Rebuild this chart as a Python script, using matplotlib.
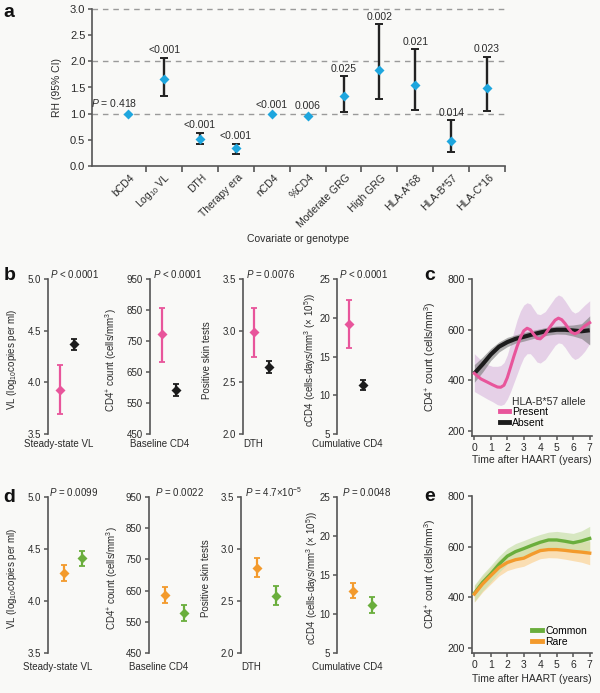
import matplotlib
matplotlib.use("Agg")
import matplotlib.pyplot as plt
from matplotlib.lines import Line2D
import numpy as np

plt.rcParams['font.family'] = ['Liberation Sans', 'DejaVu Sans']
plt.rcParams['mathtext.fontset'] = 'custom'
plt.rcParams['mathtext.rm'] = 'Liberation Sans'
plt.rcParams['mathtext.it'] = 'Liberation Sans:italic'
plt.rcParams['mathtext.bf'] = 'Liberation Sans:bold'

## data ########################################################################

# panel a: relative hazard per covariate
cov_labels = ['bCD4', 'Log$_{10}$ VL', 'DTH', 'Therapy era', 'nCD4', '%CD4',
              'Moderate GRG', 'High GRG', 'HLA-A*68', 'HLA-B*57', 'HLA-C*16']
rh = [1.00, 1.67, 0.51, 0.33, 0.99, 0.96, 1.33, 1.84, 1.54, 0.48, 1.49]
rh_lo = [1.00, 1.33, 0.42, 0.23, 0.99, 0.96, 1.03, 1.27, 1.07, 0.27, 1.05]
rh_hi = [1.00, 2.07, 0.63, 0.42, 0.99, 0.96, 1.72, 2.71, 2.23, 0.87, 2.09]
p_a = ['$P$ = 0.418', '<0.001', '<0.001', '<0.001', '<0.001', '0.006',
       '0.025', '0.002', '0.021', '0.014', '0.023']

# panels b, d: four outcome measures
out_names = ['Steady-state VL', 'Baseline CD4', 'DTH', 'Cumulative CD4']
out_ylabels = ['VL (log$_{10}$copies per ml)', 'CD4$^{+}$ count (cells/mm$^{3}$)',
               'Positive skin tests', 'cCD4 (cells-days/mm$^{3}$ (\u00d7 10$^{5}$))']
out_ylims = [(3.5, 5.0), (450, 950), (2.0, 3.5), (5, 25)]
out_yticks = [[3.5, 4.0, 4.5, 5.0], [450, 550, 650, 750, 850, 950],
              [2.0, 2.5, 3.0, 3.5], [5, 10, 15, 20, 25]]
out_fmt = ['%.1f', '%d', '%.1f', '%d']

# b: HLA-B*57 present vs absent
p_b = ['$P$ < 0.0001', '$P$ < 0.0001', '$P$ = 0.0076', '$P$ < 0.0001']
b57_mean = [3.93, 772, 2.99, 19.2]
b57_lo = [3.69, 684, 2.75, 16.1]
b57_hi = [4.17, 858, 3.225, 22.3]
nob57_mean = [4.37, 592, 2.653, 11.35]
nob57_lo = [4.31, 574, 2.59, 10.7]
nob57_hi = [4.42, 612, 2.71, 12.0]

# d: rare vs common genotype
p_d = ['$P$ = 0.0099', '$P$ = 0.0022', '$P$ = 4.7\u00d710$^{-5}$', '$P$ = 0.0048']
rare_mean = [4.27, 636, 2.82, 13.0]
rare_lo = [4.19, 609, 2.73, 12.05]
rare_hi = [4.35, 662, 2.91, 13.99]
common_mean = [4.41, 579, 2.55, 11.2]
common_lo = [4.34, 552, 2.46, 10.16]
common_hi = [4.48, 603, 2.64, 12.18]

# panel c: CD4 trajectories by HLA-B*57
c_t_abs = [0, 0.5, 1, 1.5, 2, 2.5, 3, 3.5, 4, 4.5, 5, 5.5, 6, 6.5, 7]
c_abs = [427, 463, 502, 533, 551, 564, 572, 581, 589, 596, 600, 600, 597, 594, 598]
c_abs_lo = [392, 432, 478, 512, 533, 547, 555, 564, 572, 579, 583, 582, 575, 565, 540]
c_abs_hi = [462, 492, 526, 552, 570, 580, 589, 597, 604, 611, 615, 617, 619, 624, 655]
c_t_pre = [0, 0.4, 0.8, 1.1, 1.4, 1.6, 1.8, 2.0, 2.2, 2.4, 2.6, 2.8, 3.0, 3.2,
           3.4, 3.6, 3.8, 4.0, 4.3, 4.6, 4.9, 5.1, 5.3, 5.5, 5.7, 5.9, 6.1,
           6.3, 6.5, 6.7, 7.0]
c_pre = [427, 405, 392, 382, 373, 372, 380, 410, 452, 495, 535, 570, 596, 606,
         600, 582, 566, 564, 582, 612, 638, 646, 640, 625, 606, 590, 584,
         590, 603, 615, 628]
c_pre_lo = [355, 340, 325, 315, 303, 300, 305, 325, 355, 390, 425, 460, 490, 505,
            505, 490, 472, 468, 482, 510, 538, 548, 545, 530, 510, 492, 482,
            488, 500, 515, 545]
c_pre_hi = [505, 480, 462, 455, 455, 458, 470, 500, 545, 595, 640, 675, 698, 707,
            702, 682, 663, 660, 672, 700, 728, 738, 732, 715, 695, 675, 666,
            672, 685, 698, 715]

# panel e: CD4 trajectories by genotype frequency
e_t = [0, 0.5, 1, 1.5, 2, 2.5, 3, 3.5, 4, 4.5, 5, 5.5, 6, 6.5, 7]
e_common = [415, 458, 492, 530, 562, 580, 592, 605, 617, 626, 626, 621, 615, 622, 632]
e_common_lo = [382, 425, 460, 498, 530, 548, 562, 574, 586, 594, 593, 587, 578, 580, 585]
e_common_hi = [448, 490, 525, 562, 593, 612, 624, 637, 648, 657, 660, 656, 652, 662, 680]
e_rare = [412, 452, 485, 517, 537, 548, 554, 570, 584, 588, 588, 585, 581, 578, 574]
e_rare_lo = [380, 420, 452, 484, 505, 515, 522, 538, 552, 556, 555, 550, 544, 538, 528]
e_rare_hi = [444, 484, 518, 550, 569, 581, 587, 602, 616, 620, 621, 620, 618, 618, 620]

## styling ######################################################################

W, H = 600, 693
bg = '#f9f9f7'
spine_c = '#555555'
text_c = '#2a2a2a'
cyan = '#1ea6de'
pink = '#e8559b'
black = '#1c1c1c'
orange = '#f39a2c'
green = '#6aae3c'
fs = 7.5

fig = plt.figure(figsize=(W / 100, H / 100), dpi=100, facecolor=bg)


def px_axes(x0, y0, x1, y1):
    a = fig.add_axes([x0 / W, 1 - y1 / H, (x1 - x0) / W, (y1 - y0) / H])
    a.set_facecolor('none')
    return a


def ftext(x, y, s, **kw):
    kw.setdefault('fontsize', fs)
    kw.setdefault('color', text_c)
    return fig.text(x / W, 1 - y / H, s, **kw)


def style_left(a, size=fs):
    for s in ['top', 'right', 'bottom']:
        a.spines[s].set_visible(False)
    a.spines['left'].set_color(spine_c)
    a.spines['left'].set_linewidth(1.2)
    a.tick_params(axis='y', direction='out', length=3, width=1.1, color=spine_c,
                  labelsize=size, labelcolor=text_c, pad=2)


## panel a ######################################################################
ax = px_axes(92.3, 9.3, 505, 165.7)
style_left(ax, 8)
ax.spines['bottom'].set_visible(True)
ax.spines['bottom'].set_color(spine_c)
ax.spines['bottom'].set_linewidth(1.2)
ax.set_xlim(-1, 10.5)
ax.set_ylim(0, 3)
ax.set_yticks([0, 0.5, 1.0, 1.5, 2.0, 2.5, 3.0])
ax.set_yticklabels(['%.1f' % v for v in [0, 0.5, 1.0, 1.5, 2.0, 2.5, 3.0]])
for yv in [1, 2, 3]:
    ax.axhline(yv, color='#9a9a9a', lw=1, ls=(0, (4, 3.5)), zorder=0, clip_on=False)

xi = np.arange(len(cov_labels))
rh_a = np.array(rh)
lo_a = np.array(rh_lo)
hi_a = np.array(rh_hi)
has_ci = hi_a > lo_a
ax.errorbar(xi[has_ci], rh_a[has_ci],
            yerr=[rh_a[has_ci] - lo_a[has_ci], hi_a[has_ci] - rh_a[has_ci]],
            fmt='none', ecolor='#222222', elinewidth=1.7, capsize=2.6, capthick=1.4, zorder=2)
ax.plot(xi, rh_a, 'D', color=cyan, ms=4.8, mec='none', zorder=3)
for i, p in enumerate(p_a):
    top = max(hi_a[i], rh_a[i] + 0.04)
    dx = -10 if i == 0 else 0
    ax.annotate(p, (i, top), xytext=(dx, 1.8), textcoords='offset points',
                ha='center', va='bottom', fontsize=fs, color=text_c)

# tick marks sit between categories, names are rotated under each category
ax.set_xticks(np.arange(0.5, 10.6, 1.0))
ax.set_xticklabels([])
ax.tick_params(axis='x', direction='out', length=4, width=1.2, color=spine_c)
for i, lab in enumerate(cov_labels):
    ax.annotate(lab, (i, 0), xycoords=('data', 'axes fraction'), xytext=(3.5, -7.5),
                textcoords='offset points', rotation=45, ha='right', va='center',
                rotation_mode='anchor', fontsize=fs, color=text_c)

ftext(57, 87.5, 'RH (95% CI)', rotation=90, ha='center', va='center')
ftext(298, 239, 'Covariate or genotype', ha='center', va='center')

## panels b and d ###############################################################


def outcome_row(lefts, top, bottom, xl, step, ylab_x, xlab_y, p_list, p_y, p_x,
                m1, l1, h1, c1, m2, l2, h2, c2):
    for k in range(4):
        a = px_axes(lefts[k], top, lefts[k] + 48, bottom)
        style_left(a, 7)
        a.set_xlim(xl, xl + 48 / step)
        a.set_ylim(*out_ylims[k])
        a.set_yticks(out_yticks[k])
        a.set_yticklabels([out_fmt[k] % v for v in out_yticks[k]])
        a.set_xticks([])
        for xv, m, lo, hi, col in [(1, m1[k], l1[k], h1[k], c1), (2, m2[k], l2[k], h2[k], c2)]:
            a.errorbar([xv], [m], yerr=[[m - lo], [hi - m]], fmt='D', color=col,
                       ms=5.2, mec='none', elinewidth=1.6, capsize=2.4, capthick=1.3,
                       clip_on=False)
        ftext(ylab_x[k], (top + bottom) / 2 + 3, out_ylabels[k], rotation=90,
              ha='center', va='center', fontsize=7)
        ftext(lefts[k] + 10, xlab_y, out_names[k], ha='center', va='center', fontsize=7)
        ftext(p_x[k], p_y, p_list[k], ha='left', va='center', fontsize=7)


outcome_row([48.3, 150, 242.7, 337.3], 279.3, 434, 0.18, 14.2,
            [12, 111, 207, 310], 443.8, p_b, 274, [50, 152.7, 246, 339.3],
            b57_mean, b57_lo, b57_hi, pink, nob57_mean, nob57_lo, nob57_hi, black)
outcome_row([47.7, 149, 241, 337.3], 497.3, 652.7, 0.15, 18.7,
            [12, 112, 206, 312], 667, p_d, 492.3, [49.3, 155, 245, 341.7],
            rare_mean, rare_lo, rare_hi, orange, common_mean, common_lo, common_hi, green)

## panels c and e ###############################################################


def traj_axes(top, bottom):
    a = px_axes(471.7, top, 591.7, bottom)
    for s in ['top', 'right']:
        a.spines[s].set_visible(False)
    for s in ['left', 'bottom']:
        a.spines[s].set_color(spine_c)
        a.spines[s].set_linewidth(1.2)
    a.set_xlim(-0.16, 7.12)
    a.set_ylim(180, 800)
    a.set_xticks(range(8))
    a.set_yticks([200, 400, 600, 800])
    a.tick_params(direction='out', length=3, width=1.1, color=spine_c,
                  labelsize=fs, labelcolor=text_c, pad=2)
    return a


axc = traj_axes(279.3, 435.7)
axc.fill_between(c_t_pre, c_pre_lo, c_pre_hi, color='#e3cce6', alpha=0.9, lw=0, zorder=1)
axc.fill_between(c_t_abs, c_abs_lo, c_abs_hi, color='#7a7a7a', alpha=0.6, lw=0, zorder=2)
axc.plot(c_t_abs, c_abs, color=black, lw=3.0, solid_capstyle='butt', zorder=3)
axc.plot(c_t_pre, c_pre, color=pink, lw=2.2, zorder=4)
ftext(430, 357, 'CD4$^{+}$ count (cells/mm$^{3}$)', rotation=90, ha='center', va='center')
ftext(532, 460, 'Time after HAART (years)', ha='center', va='center')
ftext(511.7, 402.3, 'HLA-B*57 allele', ha='left', va='center')
axc.legend([Line2D([], [], color=pink, lw=3.5), Line2D([], [], color=black, lw=3.5)],
           ['Present', 'Absent'], loc='upper left', bbox_to_anchor=(500.5 / W, 1 - 407 / H),
           bbox_transform=fig.transFigure, frameon=False, fontsize=fs, handlelength=0.8,
           handletextpad=0.35, labelspacing=0.1, borderpad=0, borderaxespad=0)

axe = traj_axes(496, 652.7)
axe.fill_between(e_t, e_rare_lo, e_rare_hi, color='#fbd8a2', alpha=0.8, lw=0, zorder=1)
axe.fill_between(e_t, e_common_lo, e_common_hi, color='#c9e0ab', alpha=0.7, lw=0, zorder=2)
axe.plot(e_t, e_common, color=green, lw=2.4, zorder=3)
axe.plot(e_t, e_rare, color=orange, lw=2.4, zorder=4)
ftext(430, 574, 'CD4$^{+}$ count (cells/mm$^{3}$)', rotation=90, ha='center', va='center')
ftext(532, 679.3, 'Time after HAART (years)', ha='center', va='center')
axe.legend([Line2D([], [], color=green, lw=3.5), Line2D([], [], color=orange, lw=3.5)],
           ['Common', 'Rare'], loc='upper left', bbox_to_anchor=(531.5 / W, 1 - 625.5 / H),
           bbox_transform=fig.transFigure, frameon=False, fontsize=fs, handlelength=1.0,
           handletextpad=0.3, labelspacing=0.1, borderpad=0, borderaxespad=0)

## panel letters ################################################################
for letter, x, y in [('a', 3.3, 16.7), ('b', 3.3, 280), ('c', 424.3, 280),
                     ('d', 3.3, 501.7), ('e', 424.3, 500.7)]:
    ftext(x, y, letter, fontsize=14, fontweight='bold', color='#111111',
          ha='left', va='baseline')

fig.savefig('out.png', dpi=100, facecolor=bg)
